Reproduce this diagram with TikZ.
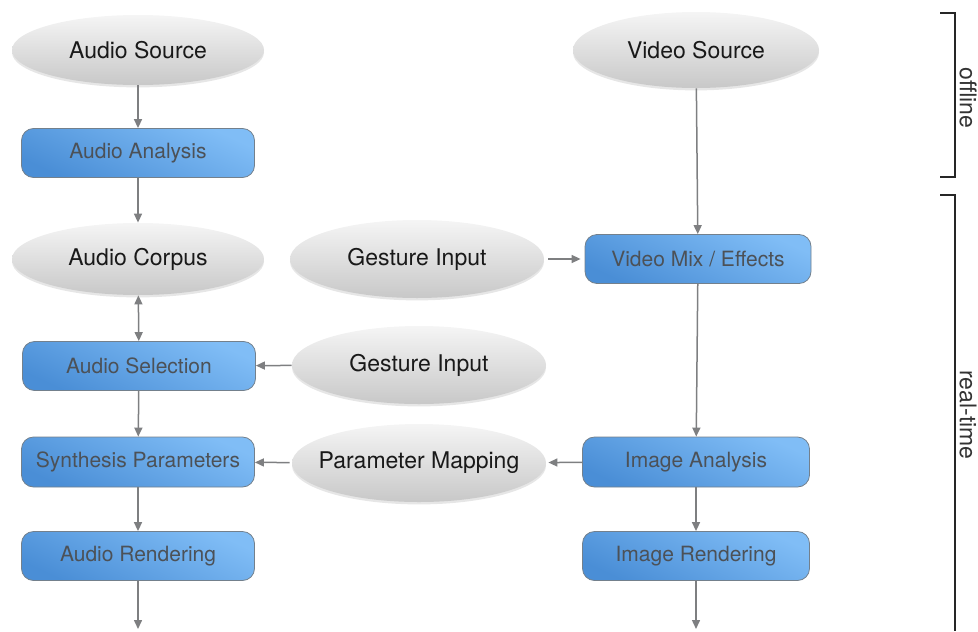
\documentclass[tikz,border=0pt]{standalone}
\usepackage{fontspec}
\setmainfont{TeX Gyre Heros}
\usepackage{xcolor}
\usepackage{tikz}
\usetikzlibrary{shapes.geometric, positioning, arrows.meta, shadows}

\definecolor{flowgray}{HTML}{7E7F81}
\definecolor{boxtop}{HTML}{80BDF6}
\definecolor{boxbot}{HTML}{4A8ED6}
\definecolor{boxline}{HTML}{73808C}
\definecolor{boxtext}{HTML}{4C5157}
\definecolor{elltop}{HTML}{F5F5F5}
\definecolor{ellbot}{HTML}{C8C8C8}

\tikzset{
	source/.style={ellipse, top color=elltop, bottom color=ellbot, inner sep=0pt,
		minimum width=126pt, minimum height=36pt, text=black!90,
		font=\fontsize{11.5}{13}\selectfont,
		drop shadow={opacity=0.2, shadow xshift=0pt, shadow yshift=-1.2pt}},
	stage/.style={rectangle, rounded corners=6pt, draw=boxline, line width=0.4pt,
		top color=boxtop, bottom color=boxbot, shading angle=-25, inner sep=0pt,
		minimum width=116.5pt, minimum height=24.5pt, text=boxtext,
		font=\fontsize{10.5}{12}\selectfont},
	flow/.style={draw=flowgray, line width=0.75pt, -{Triangle[length=4.5pt, width=4pt]}},
	phase/.style={draw=black!85, line width=0.6pt},
	phaselabel/.style={rotate=-90, text=black!80, font=\fontsize{11.5}{13}\selectfont}
}

\begin{document}
\begin{tikzpicture}[x=0.5pt, y=-0.5pt]
	\useasboundingbox (0,0) rectangle (978,631);

	% audio column
	\node[source, minimum height=35pt] (asrc) at (138,50) {Audio Source};
	\node[stage] (aana) at (138,153) {Audio Analysis};
	\node[source] (acorp) at (138,259) {Audio Corpus};
	\node[stage] (asel) at (139,366) {Audio Selection};
	\node[stage, minimum height=25pt] (synp) at (138,462) {Synthesis Parameters};
	\node[stage] (arend) at (138,556) {Audio Rendering};
	\coordinate (aout) at (138,629);

	% gestures and mapping
	\node[source, minimum width=127pt, minimum height=39pt] (gest1) at (417,259) {Gesture Input};
	\node[source, minimum width=127pt, minimum height=39pt] (gest2) at (419,365) {Gesture Input};
	\node[source, minimum width=127pt, minimum height=39pt, inner xsep=-6pt] (pmap) at (419,463) {Parameter Mapping};

	% video column
	\node[source, minimum width=123pt, minimum height=38pt] (vsrc) at (696,50) {Video Source};
	\node[stage, minimum width=113pt] (vmix) at (698,259) {Video Mix / Effects};
	\node[stage, minimum width=113.5pt, minimum height=25pt] (iana) at (696,462) {Image Analysis};
	\node[stage, minimum width=113.5pt] (irend) at (696,556) {Image Rendering};
	\coordinate (vout) at (696,629);

	% connectors
	\draw[flow] (asrc) -- (aana);
	\draw[flow] (aana) -- (acorp);
	\draw[flow, {Triangle[length=4.5pt, width=4pt]}-{Triangle[length=4.5pt, width=4pt]}] (acorp) -- (asel);
	\draw[flow] (asel) -- (synp);
	\draw[flow] (synp) -- (arend);
	\draw[flow] (arend) -- (aout);

	\draw[flow] (vsrc) -- (vmix);
	\draw[flow] (vmix) -- (iana);
	\draw[flow] (iana) -- (irend);
	\draw[flow] (irend) -- (vout);

	\draw[flow, shorten <=2pt, shorten >=2pt] (gest1) -- (vmix);
	\draw[flow] (gest2) -- (asel);
	\draw[flow, shorten <=1pt] (pmap) -- (synp);
	\draw[flow, shorten >=1pt] (iana) -- (pmap);

	% phases
	\draw[phase] (940,13) -- (955,13) -- (955,177) -- (940,177);
	\draw[phase] (940,195) -- (955,195) -- (955,631);
	\node[phaselabel] (offl) at (968,98) {offline};
	\node[phaselabel] (rtime) at (968,415) {real-time};
\end{tikzpicture}
\end{document}
